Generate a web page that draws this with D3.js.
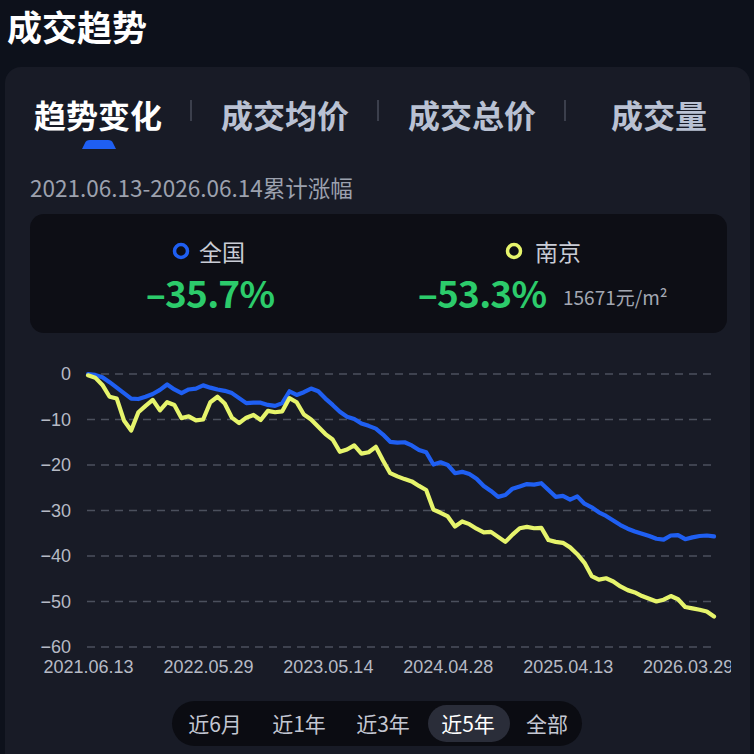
<!DOCTYPE html>
<html>
<head>
<meta charset="utf-8">
<script src="https://cdn.jsdelivr.net/npm/d3@7"></script>
<style>
  html, body { margin: 0; padding: 0; background: #0d111b; }
  svg { display: block; }
</style>
</head>
<body>
<div id="chart"></div>
<script>
// every third week, 2021.06.13 -> 2026.06.14
const dates = [
  '2021-06-13','2021-07-04','2021-07-25','2021-08-15','2021-09-05','2021-09-26','2021-10-17','2021-11-07','2021-11-28','2021-12-19',
  '2022-01-09','2022-01-30','2022-02-20','2022-03-13','2022-04-03','2022-04-24','2022-05-15','2022-06-05','2022-06-26','2022-07-17',
  '2022-08-07','2022-08-28','2022-09-18','2022-10-09','2022-10-30','2022-11-20','2022-12-11','2023-01-01','2023-01-22','2023-02-12',
  '2023-03-05','2023-03-26','2023-04-16','2023-05-07','2023-05-28','2023-06-18','2023-07-09','2023-07-30','2023-08-20','2023-09-10',
  '2023-10-01','2023-10-22','2023-11-12','2023-12-03','2023-12-24','2024-01-14','2024-02-04','2024-02-25','2024-03-17','2024-04-07',
  '2024-04-28','2024-05-19','2024-06-09','2024-06-30','2024-07-21','2024-08-11','2024-09-01','2024-09-22','2024-10-13','2024-11-03',
  '2024-11-24','2024-12-15','2025-01-05','2025-01-26','2025-02-16','2025-03-09','2025-03-30','2025-04-20','2025-05-11','2025-06-01',
  '2025-06-22','2025-07-13','2025-08-03','2025-08-24','2025-09-14','2025-10-05','2025-10-26','2025-11-16','2025-12-07','2025-12-28',
  '2026-01-18','2026-02-08','2026-03-01','2026-03-22','2026-04-12','2026-05-03','2026-05-24','2026-06-14'
]

const national = [
  0, -0.2, -0.7, -1.8, -3.0, -4.2, -5.4, -5.5, -5.0, -4.4,
  -3.5, -2.3, -3.4, -4.2, -3.4, -3.2, -2.5, -3.0, -3.4, -3.7,
  -4.2, -5.3, -6.4, -6.3, -6.3, -6.8, -7.0, -6.4, -3.8, -4.6,
  -4.0, -3.2, -3.8, -5.4, -6.8, -8.3, -9.4, -9.9, -10.9, -11.4,
  -12.0, -13.3, -14.9, -15.1, -15.0, -15.7, -16.7, -17.2, -19.9, -19.4,
  -20.0, -21.8, -21.5, -22.0, -23.0, -24.6, -25.7, -27.0, -26.6, -25.2,
  -24.7, -24.2, -24.3, -24.0, -25.5, -27.0, -26.8, -27.6, -26.9, -28.5,
  -29.3, -30.4, -31.2, -32.2, -33.2, -34.0, -34.6, -35.1, -35.6, -36.2,
  -36.4, -35.5, -35.4, -36.3, -35.9, -35.6, -35.5, -35.7
]

const nanjing = [
  -0.3, -0.8, -2.4, -5.0, -5.4, -10.2, -12.4, -8.4, -7.0, -5.7,
  -8.0, -6.2, -6.8, -9.7, -9.3, -10.2, -10.0, -6.2, -5.0, -6.5,
  -9.6, -10.8, -9.6, -9.0, -10.1, -8.1, -8.4, -8.2, -5.3, -6.2,
  -8.9, -10.0, -11.6, -13.2, -14.4, -17.1, -16.6, -15.7, -17.5, -17.2,
  -16.0, -19.0, -21.8, -22.5, -23.1, -23.6, -24.6, -25.5, -29.8, -30.5,
  -31.3, -33.5, -32.4, -33.0, -34.0, -34.8, -34.7, -35.8, -36.9, -35.3,
  -33.9, -33.6, -33.9, -33.8, -36.5, -36.9, -37.1, -38.1, -39.6, -41.5,
  -44.4, -45.2, -44.9, -45.6, -46.7, -47.5, -48.0, -48.8, -49.4, -50.0,
  -49.6, -48.8, -49.5, -51.2, -51.5, -51.8, -52.2, -53.3
]

const xTickDates = ['2021-06-13', '2022-05-29', '2023-05-14', '2024-04-28', '2025-04-13', '2026-03-29']
const yTicks = [0, -10, -20, -30, -40, -50, -60]
const tabs = ['趋势变化', '成交均价', '成交总价', '成交量']
const ranges = ['近6月', '近1年', '近3年', '近5年', '全部']
const seriesNames = ['全国', '南京']
const seriesChanges = ['–35.7%', '–53.3%']
const nanjingPrice = '15671元/m²'

const W = 754
const H = 754
const CJK = '"Noto Sans CJK SC", "Noto Sans", sans-serif'
const NUM = '"Liberation Sans", Arial, sans-serif'
const BLUE = '#1f5ff2'
const YELLOW = '#e6f46c'
const GREEN = '#2ccb6b'

const parse = d3.timeParse('%Y-%m-%d')

const svg = d3.select('#chart')
  .append('svg')
  .attr('width', W)
  .attr('height', H)
  .style('font-family', CJK)

// page + card backgrounds
svg.append('rect').attr('width', W).attr('height', H).attr('fill', '#0d111b')
svg.append('rect')
  .attr('x', 5).attr('y', 67).attr('width', 745).attr('height', 720)
  .attr('rx', 16).attr('fill', '#181b26')

svg.append('text')
  .attr('x', 7).attr('y', 25)
  .attr('dominant-baseline', 'central')
  .attr('fill', '#ffffff')
  .attr('font-size', 35)
  .attr('font-weight', 700)
  .text('成交趋势')

// tabs
const tabX = [98, 285, 472, 659]
tabs.forEach((t, i) => {
  svg.append('text')
    .attr('x', tabX[i]).attr('y', 114)
    .attr('text-anchor', 'middle')
    .attr('dominant-baseline', 'central')
    .attr('fill', i === 0 ? '#ffffff' : '#b9c1d3')
    .attr('font-size', 32)
    .attr('font-weight', 700)
    .text(t)
})
;[191, 378, 565].forEach((sx) => {
  svg.append('line')
    .attr('x1', sx).attr('x2', sx).attr('y1', 100).attr('y2', 121)
    .attr('stroke', '#3b3f4c').attr('stroke-width', 2)
})
svg.append('path')
  .attr('d', 'M82,149 L85,143 Q86,140 90,140 L108,140 Q112,140 113,143 L116,149 Z')
  .attr('fill', BLUE)

svg.append('text')
  .attr('x', 30).attr('y', 187)
  .attr('dominant-baseline', 'central')
  .attr('fill', '#9ca1ae')
  .attr('font-size', 22.5)
  .text('2021.06.13-2026.06.14累计涨幅')

// summary box
svg.append('rect')
  .attr('x', 30).attr('y', 214).attr('width', 697).attr('height', 119)
  .attr('rx', 14).attr('fill', '#0d0e15')

const sumCols = [
  { ring: 181, name: 199, change: 210, color: BLUE },
  { ring: 514, name: 535, change: 482, color: YELLOW }
]
sumCols.forEach((c, i) => {
  svg.append('circle')
    .attr('cx', c.ring).attr('cy', 251).attr('r', 6.5)
    .attr('fill', 'none').attr('stroke', c.color).attr('stroke-width', 3.5)
  svg.append('text')
    .attr('x', c.name).attr('y', 251)
    .attr('dominant-baseline', 'central')
    .attr('fill', '#c9ccd5')
    .attr('font-size', 23)
    .text(seriesNames[i])
  svg.append('text')
    .attr('x', c.change).attr('y', 292)
    .attr('text-anchor', 'middle')
    .attr('dominant-baseline', 'central')
    .attr('fill', GREEN)
    .attr('font-size', 37)
    .attr('font-weight', 700)
    .attr('letter-spacing', -0.8)
    .text(seriesChanges[i])
})
svg.append('text')
  .attr('x', 563).attr('y', 296)
  .attr('dominant-baseline', 'central')
  .attr('fill', '#a3a7b2')
  .attr('font-size', 19)
  .text(nanjingPrice)

// chart
const x = d3.scaleTime()
  .domain([parse(dates[0]), parse(dates[dates.length - 1])])
  .range([88, 714])
const y = d3.scaleLinear().domain([-60, 0]).range([647, 374])

const grid = svg.append('g')
yTicks.forEach((t) => {
  grid.append('line')
    .attr('x1', 87).attr('x2', 714)
    .attr('y1', y(t)).attr('y2', y(t))
    .attr('stroke', '#4b505d').attr('stroke-width', 1.5)
    .attr('stroke-dasharray', '8,6')
})

const yAxis = svg.append('g')
  .attr('transform', 'translate(71,0)')
  .call(d3.axisLeft(y).tickValues(yTicks).tickSize(0).tickPadding(0).tickFormat(d3.format('d')))
yAxis.select('.domain').remove()
yAxis.selectAll('text')
  .attr('fill', '#b6bac5')
  .attr('font-size', 18)
  .attr('font-family', NUM)

svg.append('defs').append('clipPath').attr('id', 'xclip')
  .append('rect').attr('x', 0).attr('y', 600).attr('width', 731).attr('height', 100)

const xAxis = svg.append('g')
  .attr('clip-path', 'url(#xclip)')
  .append('g')
  .attr('transform', 'translate(0,660)')
  .call(d3.axisBottom(x)
    .tickValues(xTickDates.map(parse))
    .tickSize(0)
    .tickPadding(0)
    .tickFormat(d3.timeFormat('%Y.%m.%d')))
xAxis.select('.domain').remove()
xAxis.selectAll('text')
  .attr('fill', '#b6bac5')
  .attr('font-size', 18)
  .attr('font-family', NUM)

const line = d3.line()
  .x((d, i) => x(parse(dates[i])))
  .y((d) => y(d))
  .curve(d3.curveLinear)

;[[national, BLUE], [nanjing, YELLOW]].forEach(([vals, color]) => {
  svg.append('path')
    .datum(vals)
    .attr('d', line)
    .attr('fill', 'none')
    .attr('stroke', color)
    .attr('stroke-width', 4.2)
    .attr('stroke-linejoin', 'round')
    .attr('stroke-linecap', 'round')
})

// range selector
svg.append('rect')
  .attr('x', 172).attr('y', 701).attr('width', 410).attr('height', 45)
  .attr('rx', 22.5).attr('fill', '#0b0c12')
svg.append('rect')
  .attr('x', 428).attr('y', 705).attr('width', 82).attr('height', 37)
  .attr('rx', 18.5).attr('fill', '#2a2d39')
const rangeX = [215, 299, 383, 468, 547]
ranges.forEach((r, i) => {
  svg.append('text')
    .attr('x', rangeX[i]).attr('y', 723)
    .attr('text-anchor', 'middle')
    .attr('dominant-baseline', 'central')
    .attr('fill', i === 3 ? '#ffffff' : '#c3c7d2')
    .attr('font-size', 21)
    .text(r)
})
</script>
</body>
</html>
